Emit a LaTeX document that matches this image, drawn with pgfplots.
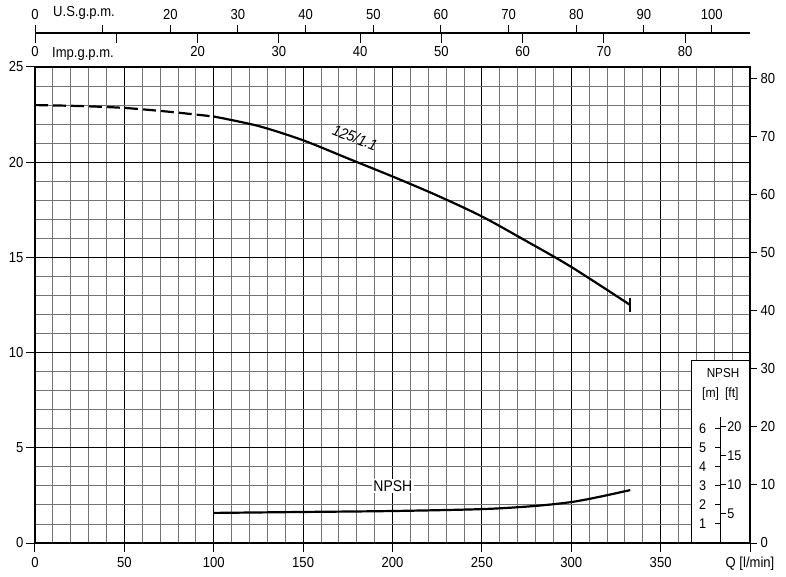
\documentclass[border=0pt]{standalone}
\usepackage{pgfplots}
\pgfplotsset{compat=1.18}
\usepackage{fontspec}
\setmainfont{Liberation Sans}[FakeStretch=0.9]
\newcommand{\tfont}{\fontsize{14.5}{16}\selectfont}
\begin{document}
\begin{tikzpicture}
\path[use as bounding box] (0pt,0pt) rectangle (786pt,576pt);
% main axis (m)
\begin{axis}[
  at={(35pt,33pt)}, anchor=south west, scale only axis,
  width=715pt, height=476pt,
  xmin=0, xmax=400, ymin=0, ymax=25,
  xtick={0,50,...,400},
  xticklabels={0,50,100,150,200,250,300,350,{Q [l/min]}},
  ytick={0,5,...,25},
  minor xtick={0,10,...,400}, minor ytick={0,1,...,25},
  grid=both,
  minor grid style={black!55, line width=0.9pt},
  major grid style={black, line width=1pt},
  axis line style={black, line width=1.2pt},
  xtick pos=left, ytick pos=left,
  tick align=outside, major tick length=9pt, minor tick length=0pt,
  tick style={black, line width=1pt},
  tick label style={font=\tfont},
  yticklabel style={xshift=1pt},
  xticklabel style={yshift=-1.5pt},
  /pgf/number format/assume math mode=true,
]
\addplot[black, line width=2.2pt, dash pattern=on 13pt off 5pt, smooth]
  coordinates {(0,23.0)(25,22.95)(50,22.85)(75,22.65)(100,22.4)};
\addplot[black, line width=2.2pt, smooth]
  coordinates {(100,22.4)(125,21.9)(150,21.15)(175,20.2)(200,19.25)(225,18.25)(250,17.15)(275,15.85)(300,14.5)(333,12.5)};
\addplot[black, line width=2.2pt] coordinates {(333,12.15)(333,12.85)};
\addplot[black, line width=2.2pt, smooth]
  coordinates {(100,1.58)(150,1.63)(200,1.68)(250,1.78)(279,1.94)(300,2.15)(316,2.43)(333,2.78)};
\node[rotate=-21, inner sep=0pt, font=\fontsize{15.5}{17}\selectfont\itshape] at (axis cs:179,21.3) {125/1.1};
\node[fill=white, inner sep=1.5pt, font=\fontsize{15.5}{17}\selectfont] at (axis cs:200.2,2.97) {NPSH};
% NPSH box
\draw[black, line width=1.2pt, fill=white] (axis cs:367.3,0) rectangle (axis cs:400,9.6);
\node[font=\fontsize{13}{15}\selectfont] at (axis cs:384.9,8.93) {NPSH};
\node[font=\fontsize{13.5}{15}\selectfont] at (axis cs:383.4,7.85) {[m]\hspace{6pt}[ft]};
\draw[black, line width=1pt] (axis cs:383.6,0) -- (axis cs:383.6,6.63);
\draw[black, line width=1pt] (axis cs:380.4,1) -- (axis cs:383.6,1);
\draw[black, line width=1pt] (axis cs:380.4,2) -- (axis cs:383.6,2);
\draw[black, line width=1pt] (axis cs:380.4,3) -- (axis cs:383.6,3);
\draw[black, line width=1pt] (axis cs:380.4,4) -- (axis cs:383.6,4);
\draw[black, line width=1pt] (axis cs:380.4,5) -- (axis cs:383.6,5);
\draw[black, line width=1pt] (axis cs:380.4,6) -- (axis cs:383.6,6);
\node[font=\fontsize{14}{15}\selectfont] at (axis cs:373.5,1) {1};
\node[font=\fontsize{14}{15}\selectfont] at (axis cs:373.5,2) {2};
\node[font=\fontsize{14}{15}\selectfont] at (axis cs:373.5,3) {3};
\node[font=\fontsize{14}{15}\selectfont] at (axis cs:373.5,4) {4};
\node[font=\fontsize{14}{15}\selectfont] at (axis cs:373.5,5) {5};
\node[font=\fontsize{14}{15}\selectfont] at (axis cs:373.5,6) {6};
\draw[black, line width=1pt] (axis cs:383.6,1.524) -- (axis cs:386.6,1.524);
\draw[black, line width=1pt] (axis cs:383.6,3.048) -- (axis cs:386.6,3.048);
\draw[black, line width=1pt] (axis cs:383.6,4.572) -- (axis cs:386.6,4.572);
\draw[black, line width=1pt] (axis cs:383.6,6.096) -- (axis cs:386.6,6.096);
\node[anchor=west, inner sep=0.5pt, font=\fontsize{14}{15}\selectfont] at (axis cs:386.9,1.524) {5};
\node[anchor=west, inner sep=0.5pt, font=\fontsize{14}{15}\selectfont] at (axis cs:386.9,3.048) {10};
\node[anchor=west, inner sep=0.5pt, font=\fontsize{14}{15}\selectfont] at (axis cs:386.9,4.572) {15};
\node[anchor=west, inner sep=0.5pt, font=\fontsize{14}{15}\selectfont] at (axis cs:386.9,6.096) {20};
\end{axis}
% right axis (ft)
\begin{axis}[
  at={(35pt,33pt)}, anchor=south west, scale only axis,
  width=715pt, height=476pt,
  xmin=0, xmax=400, ymin=0, ymax=82.021,
  hide x axis, axis y line*=right,
  ytick={0,10,...,80},
  axis line style={black, line width=1.2pt},
  tick align=outside, major tick length=7pt,
  tick style={black, line width=1pt},
  tick label style={font=\tfont},
  /pgf/number format/assume math mode=true,
]
\addplot[draw=none] coordinates {(0,0)};
\end{axis}
% U.S. gpm axis
\begin{axis}[
  at={(35pt,543pt)}, anchor=north west, scale only axis,
  width=715pt, height=10pt,
  xmin=0, xmax=105.668, ymin=0, ymax=1,
  hide y axis, axis x line*=top,
  xtick={0,10,...,100},
  xticklabels={0,,20,30,40,50,60,70,80,90,100},
  axis line style={black, line width=1.2pt},
  tick align=outside, major tick length=8pt,
  tick style={black, line width=1pt},
  tick label style={font=\tfont},
  xticklabel style={yshift=2pt},
  /pgf/number format/assume math mode=true,
]
\addplot[draw=none] coordinates {(0,0)};
\end{axis}
% Imp gpm axis
\begin{axis}[
  at={(35pt,543pt)}, anchor=south west, scale only axis,
  width=715pt, height=10pt,
  xmin=0, xmax=87.988, ymin=0, ymax=1,
  hide y axis, axis x line*=bottom,
  xtick={0,10,...,80},
  xticklabels={0,,20,30,40,50,60,70,80},
  axis line style={black, line width=1.2pt},
  tick align=outside, major tick length=10pt,
  tick style={black, line width=1pt},
  tick label style={font=\tfont},
  xticklabel style={yshift=0pt},
  /pgf/number format/assume math mode=true,
]
\addplot[draw=none] coordinates {(0,0)};
\end{axis}
\node[anchor=base west, inner sep=0pt, font=\tfont] at (53pt,559pt) {U.S.g.p.m.};
\node[anchor=base west, inner sep=0pt, font=\tfont] at (52pt,518pt) {Imp.g.p.m.};
\end{tikzpicture}
\end{document}
